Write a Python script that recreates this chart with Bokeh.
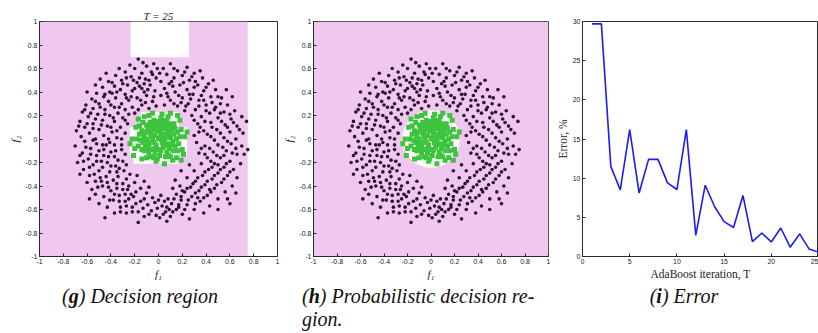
from bokeh.plotting import figure
from bokeh.models import Div, FixedTicker, Range1d
from bokeh.layouts import row, column
from bokeh.embed import file_html
from bokeh.resources import INLINE

# ---------------- data ----------------
feat_ticks = [-1, -0.8, -0.6, -0.4, -0.2, 0, 0.2, 0.4, 0.6, 0.8, 1]
feat_tick_labels = ["-1", "-0.8", "-0.6", "-0.4", "-0.2", "0", "0.2", "0.4", "0.6", "0.8", "1"]
iter_ticks = [0, 5, 10, 15, 20, 25]
err_ticks = [0, 5, 10, 15, 20, 25, 30]

iterations = list(range(1, 26))
error_pct = [29.7, 29.7, 11.5, 8.5, 16.2, 8.1, 12.4, 12.4, 9.4, 8.55, 16.2, 2.7, 9.1,
             6.35, 4.45, 3.7, 7.8, 1.9, 3.0, 1.86, 3.64, 1.19, 2.88, 0.97, 0.55]

# decision region (g): negative class area (pink) and positive pockets (white)
g_neg_left, g_neg_right, g_neg_bottom, g_neg_top = [-1.0], [0.75], [-1.0], [1.0]
g_pos_left = [-0.235, -0.15, -0.24, -0.21]
g_pos_right = [0.255, 0.17, 0.24, 0.17]
g_pos_bottom = [0.695, 0.10, -0.14, -0.21]
g_pos_top = [1.0, 0.23, 0.10, -0.14]

# probabilistic region (h): white disc
h_pos_cx, h_pos_cy, h_pos_r = [0.0], [0.0], [0.245]

# class +1 samples (green, inner)
green_pts = [
    (0, 0), (0.03, 0.02), (-0.03, 0.03), (0.05, -0.02), (-0.05, -0.01), (0.02, 0.06), (-0.02, -0.05),
    (0.07, 0.04), (-0.07, 0.05), (0.04, -0.07), (-0.04, 0.08), (0.08, -0.04), (-0.08, -0.05), (0.01, 0.10),
    (0.00, -0.09), (0.10, 0.01), (-0.10, 0.00), (0.06, 0.09), (-0.06, -0.09), (0.09, -0.08), (-0.09, 0.09),
    (0.11, 0.07), (-0.11, -0.07), (0.12, -0.02), (-0.12, 0.03), (0.03, 0.13), (-0.03, -0.12), (0.05, 0.12),
    (-0.05, 0.12), (0.13, 0.04), (-0.13, -0.03), (0.07, -0.11), (-0.08, -0.12), (0.14, -0.06), (-0.14, 0.07),
    (0.10, 0.11), (-0.10, 0.12), (0.00, 0.15), (0.01, -0.14), (0.15, 0.00), (-0.15, -0.01), (0.12, -0.10),
    (-0.12, -0.10), (0.16, 0.06), (-0.16, 0.04), (0.04, 0.16), (-0.04, 0.16), (0.06, -0.15), (-0.06, -0.15),
    (0.13, 0.13), (-0.13, 0.14), (0.17, -0.04), (-0.17, -0.06), (0.10, -0.15), (-0.10, -0.16),
    (0.02, 0.03), (-0.01, 0.07), (0.06, 0.01), (-0.06, 0.02), (0.03, -0.03), (-0.03, -0.08), (0.08, 0.07),
    (-0.02, 0.11), (0.11, -0.05), (-0.09, -0.03), (0.04, 0.09), (-0.07, 0.10), (0.09, 0.13), (-0.11, 0.06),
    (0.01, 0.01), (0.04, 0.04), (-0.04, -0.03), (0.06, -0.05), (-0.06, 0.06), (0.02, -0.10), (-0.01, 0.13),
    (0.09, 0.03), (-0.09, -0.08), (0.11, 0.10), (-0.12, 0.00), (0.14, 0.09), (-0.14, -0.09), (0.07, 0.15),
    (-0.07, 0.14), (0.08, -0.14), (-0.04, -0.16), (0.16, -0.10), (-0.16, 0.11), (0.18, 0.02), (-0.18, 0.00),
    (0.02, 0.18), (-0.01, -0.17),
    (0.19, 0.08), (-0.19, 0.10), (0.20, -0.09), (-0.20, -0.08), (0.08, 0.19), (-0.08, 0.20), (0.03, 0.21),
    (-0.02, -0.19), (0.12, -0.18), (-0.14, -0.17), (0.22, 0.02), (-0.22, 0.00), (0.18, 0.16), (-0.17, 0.17),
    (0.15, -0.16), (-0.05, 0.22), (0.16, 0.20), (-0.12, 0.19), (0.21, -0.13), (-0.21, -0.14), (0.05, -0.21),
    (0.24, 0.06), (-0.24, -0.04), (0.10, 0.22), (0.19, -0.18),
]

# class -1 samples (dark, ring)
dark_pts = [
    # upper left
    (-0.17, 0.68), (-0.10, 0.62), (-0.04, 0.64), (-0.20, 0.60), (-0.28, 0.57), (-0.14, 0.56), (-0.06, 0.57),
    (-0.36, 0.54), (-0.23, 0.53), (-0.31, 0.50), (-0.11, 0.51), (-0.02, 0.52), (-0.42, 0.49), (-0.18, 0.48),
    (-0.26, 0.46), (-0.37, 0.45), (-0.07, 0.46), (-0.47, 0.44), (-0.14, 0.43), (-0.32, 0.42), (-0.22, 0.41),
    (-0.41, 0.40), (-0.03, 0.41), (-0.52, 0.39), (-0.28, 0.38), (-0.10, 0.37), (-0.46, 0.36), (-0.36, 0.35),
    (-0.18, 0.35), (-0.56, 0.34), (-0.25, 0.33), (-0.42, 0.32), (-0.05, 0.32), (-0.31, 0.30), (-0.50, 0.30),
    (-0.61, 0.29), (-0.14, 0.29), (-0.37, 0.27), (-0.55, 0.26), (-0.45, 0.25), (-0.28, 0.25), (-0.64, 0.23),
    (-0.34, 0.22), (-0.51, 0.21), (-0.41, 0.20), (-0.59, 0.19), (-0.22, 0.27), (-0.30, 0.18), (-0.47, 0.16),
    (-0.66, 0.15), (-0.37, 0.15), (-0.55, 0.13), (-0.43, 0.11), (-0.62, 0.10), (-0.32, 0.10), (-0.50, 0.08),
    (-0.69, 0.07), (-0.39, 0.06), (-0.58, 0.05), (-0.28, 0.05), (-0.46, 0.03), (-0.65, 0.02), (-0.35, 0.01),
    (-0.08, 0.26), (-0.02, 0.28), (-0.20, 0.22), (-0.26, 0.13), (-0.53, 0.46), (-0.60, 0.40), (-0.33, 0.60),
    (-0.44, 0.56), (-0.08, 0.50), (-0.16, 0.45), (-0.27, 0.52), (-0.39, 0.39), (-0.49, 0.27), (-0.57, 0.22),
    (-0.23, 0.36), (-0.12, 0.40),
    (-0.13, 0.65), (-0.24, 0.63), (-0.01, 0.60), (-0.30, 0.47), (-0.20, 0.43), (-0.09, 0.42), (-0.35, 0.40),
    (-0.45, 0.38), (-0.27, 0.35), (-0.15, 0.33), (-0.40, 0.29), (-0.53, 0.32), (-0.33, 0.27), (-0.25, 0.21),
    (-0.45, 0.21), (-0.62, 0.25), (-0.38, 0.18), (-0.53, 0.17), (-0.28, 0.16), (-0.60, 0.13), (-0.40, 0.10),
    (-0.48, 0.12), (-0.35, 0.07), (-0.55, 0.09), (-0.67, 0.11), (-0.42, 0.00), (-0.31, 0.00), (-0.53, 0.00),
    (-0.11, 0.31), (-0.17, 0.25), (-0.04, 0.36), (-0.49, 0.51), (-0.39, 0.48), (-0.21, 0.50), (-0.12, 0.47),
    (-0.05, 0.55), (-0.16, 0.52),
    # upper right
    (0.04, 0.60), (0.10, 0.64), (0.16, 0.58), (0.24, 0.61), (0.07, 0.55), (0.20, 0.54), (0.30, 0.56),
    (0.13, 0.52), (0.02, 0.49), (0.26, 0.50), (0.37, 0.52), (0.09, 0.47), (0.18, 0.46), (0.33, 0.46),
    (0.42, 0.47), (0.05, 0.43), (0.24, 0.42), (0.14, 0.40), (0.38, 0.41), (0.48, 0.42), (0.29, 0.38),
    (0.02, 0.37), (0.20, 0.35), (0.44, 0.36), (0.10, 0.33), (0.34, 0.33), (0.53, 0.35), (0.25, 0.30),
    (0.40, 0.29), (0.05, 0.29), (0.16, 0.28), (0.48, 0.27), (0.58, 0.29), (0.31, 0.25), (0.55, 0.23),
    (0.43, 0.22), (0.64, 0.24), (0.36, 0.19), (0.50, 0.18), (0.61, 0.17), (0.28, 0.20), (0.70, 0.19),
    (0.44, 0.14), (0.56, 0.12), (0.33, 0.13), (0.66, 0.11), (0.74, 0.15), (0.49, 0.08), (0.38, 0.07),
    (0.60, 0.06), (0.71, 0.05), (0.30, 0.03), (0.44, 0.02), (0.55, 0.01), (0.65, 0.00), (0.22, 0.24),
    (0.12, 0.45), (0.35, 0.58), (0.46, 0.50), (0.52, 0.30), (0.27, 0.34), (0.19, 0.31), (0.40, 0.24),
    (0.57, 0.42), (0.62, 0.36),
    (0.13, 0.60), (0.01, 0.56), (0.22, 0.57), (0.28, 0.53), (0.11, 0.49), (0.21, 0.48), (0.30, 0.44),
    (0.07, 0.39), (0.17, 0.37), (0.26, 0.38), (0.36, 0.37), (0.13, 0.30), (0.23, 0.28), (0.34, 0.28),
    (0.45, 0.31), (0.30, 0.16), (0.39, 0.15), (0.52, 0.22), (0.47, 0.25), (0.60, 0.21), (0.35, 0.10),
    (0.45, 0.10), (0.53, 0.15), (0.63, 0.14), (0.41, 0.04), (0.52, 0.05), (0.68, 0.08), (0.34, 0.06),
    (0.58, 0.10), (0.50, 0.36), (0.40, 0.44), (0.31, 0.49), (0.08, 0.36), (0.38, 0.33),
    # lower left
    (-0.62, -0.02), (-0.52, -0.04), (-0.41, -0.03), (-0.31, -0.05), (-0.70, -0.06), (-0.57, -0.08),
    (-0.46, -0.09), (-0.36, -0.10), (-0.64, -0.12), (-0.52, -0.14), (-0.28, -0.13), (-0.42, -0.15),
    (-0.59, -0.17), (-0.68, -0.20), (-0.48, -0.19), (-0.34, -0.18), (-0.55, -0.22), (-0.40, -0.23),
    (-0.63, -0.26), (-0.27, -0.22), (-0.50, -0.27), (-0.35, -0.28), (-0.58, -0.31), (-0.44, -0.32),
    (-0.24, -0.30), (-0.53, -0.36), (-0.38, -0.35), (-0.30, -0.38), (-0.47, -0.40), (-0.20, -0.37),
    (-0.56, -0.43), (-0.40, -0.44), (-0.26, -0.43), (-0.33, -0.48), (-0.15, -0.42), (-0.46, -0.49),
    (-0.21, -0.49), (-0.38, -0.52), (-0.10, -0.46), (-0.28, -0.53), (-0.15, -0.53), (-0.05, -0.50),
    (-0.32, -0.58), (-0.22, -0.58), (-0.09, -0.56), (-0.03, -0.54), (-0.17, -0.62), (-0.06, -0.61),
    (-0.27, -0.63), (-0.12, -0.66), (-0.02, -0.65), (-0.45, -0.67), (-0.17, -0.71), (-0.60, -0.37),
    (-0.50, -0.55), (-0.43, -0.58), (-0.66, -0.30), (-0.37, -0.63), (-0.18, -0.31), (-0.12, -0.36),
    (-0.44, -0.05), (-0.25, -0.40), (-0.08, -0.41), (-0.53, -0.47), (-0.35, -0.42), (-0.23, -0.47),
    (-0.48, -0.36), (-0.66, -0.14), (-0.33, -0.25), (-0.58, -0.51),
    (-0.55, -0.01), (-0.47, -0.05), (-0.37, -0.05), (-0.61, -0.07), (-0.50, -0.10), (-0.40, -0.11),
    (-0.31, -0.09), (-0.57, -0.13), (-0.46, -0.14), (-0.37, -0.15), (-0.63, -0.19), (-0.52, -0.19),
    (-0.43, -0.20), (-0.30, -0.19), (-0.58, -0.24), (-0.47, -0.24), (-0.36, -0.23), (-0.54, -0.30),
    (-0.41, -0.28), (-0.29, -0.27), (-0.49, -0.33), (-0.34, -0.32), (-0.43, -0.37), (-0.27, -0.34),
    (-0.35, -0.38), (-0.51, -0.41), (-0.42, -0.41), (-0.30, -0.43), (-0.19, -0.45), (-0.37, -0.47),
    (-0.28, -0.47), (-0.41, -0.52), (-0.25, -0.51), (-0.12, -0.51), (-0.33, -0.53), (-0.19, -0.55),
    (-0.27, -0.57), (-0.13, -0.59), (-0.01, -0.59), (-0.22, -0.62), (-0.08, -0.64), (-0.32, -0.62),
    # lower right
    (0.02, -0.48), (0.08, -0.51), (0.15, -0.47), (0.03, -0.57), (0.11, -0.55), (0.19, -0.52), (0.06, -0.62),
    (0.15, -0.60), (0.24, -0.56), (0.01, -0.67), (0.10, -0.66), (0.20, -0.64), (0.07, -0.70), (0.26, -0.68),
    (0.30, -0.60), (0.22, -0.45), (0.28, -0.49), (0.35, -0.53), (0.43, -0.57), (0.27, -0.41), (0.34, -0.44),
    (0.41, -0.48), (0.50, -0.51), (0.31, -0.36), (0.39, -0.39), (0.47, -0.42), (0.56, -0.45), (0.37, -0.31),
    (0.45, -0.34), (0.53, -0.37), (0.62, -0.40), (0.42, -0.26), (0.50, -0.29), (0.58, -0.31), (0.66, -0.33),
    (0.36, -0.21), (0.47, -0.21), (0.55, -0.24), (0.63, -0.26), (0.41, -0.16), (0.52, -0.16), (0.60, -0.19),
    (0.69, -0.21), (0.34, -0.12), (0.46, -0.11), (0.57, -0.10), (0.66, -0.13), (0.75, -0.09), (0.72, -0.13),
    (0.39, -0.06), (0.50, -0.05), (0.61, -0.04), (0.70, -0.06), (0.32, -0.03), (0.18, -0.40), (0.12, -0.42),
    (0.24, -0.33), (0.19, -0.27), (0.30, -0.27), (0.60, -0.55), (0.50, -0.60), (0.38, -0.63), (0.65, -0.46),
    (0.14, -0.35), (0.26, -0.22), (0.44, -0.45), (0.33, -0.50), (0.09, -0.60), (0.55, -0.14), (0.58, -0.51),
    (0.05, -0.53), (0.13, -0.51), (0.00, -0.52), (0.17, -0.56), (0.07, -0.58), (0.12, -0.62), (0.22, -0.60),
    (0.04, -0.64), (0.19, -0.49), (0.25, -0.52), (0.31, -0.55), (0.24, -0.42), (0.31, -0.46), (0.38, -0.50),
    (0.29, -0.38), (0.36, -0.41), (0.43, -0.43), (0.33, -0.33), (0.41, -0.36), (0.49, -0.39), (0.39, -0.28),
    (0.47, -0.31), (0.55, -0.34), (0.45, -0.24), (0.52, -0.26), (0.60, -0.28), (0.44, -0.19), (0.50, -0.22),
    (0.57, -0.21), (0.39, -0.13), (0.49, -0.14), (0.62, -0.12), (0.43, -0.08), (0.54, -0.07), (0.65, -0.08),
    (0.36, -0.08), (0.47, -0.01), (0.58, -0.02), (0.20, -0.44), (0.17, -0.58),
]

green_x = [p[0] for p in green_pts]
green_y = [p[1] for p in green_pts]
dark_x = [p[0] for p in dark_pts]
dark_y = [p[1] for p in dark_pts]

# ---------------- style ----------------
PINK = "#efc7ef"
DARK = "#2e1230"
GREEN = "#3cc43c"
BLUE = "#1c1cf0"
AX = "#2a2a2a"
TICK_FONT = "Liberation Sans"
SERIF = "Liberation Serif"

FIG_H = 285
TOP = 21
BOTTOM = 29


def style_axes(p, xticks, xlabels, yticks, ylabels, xlab, ylab, xlab_italic, ylab_italic, lab_size="11px"):
    p.grid.visible = False
    p.outline_line_color = AX
    p.outline_line_width = 1
    p.background_fill_color = "white"
    p.border_fill_color = "white"
    for ax, ticks, labels in ((p.xaxis[0], xticks, xlabels), (p.yaxis[0], yticks, ylabels)):
        ax.ticker = FixedTicker(ticks=ticks)
        ax.major_label_overrides = {t: l for t, l in zip(ticks, labels)}
        ax.major_tick_in = 3
        ax.major_tick_out = 0
        ax.minor_tick_line_color = None
        ax.axis_line_color = AX
        ax.major_tick_line_color = AX
        ax.major_label_text_font = TICK_FONT
        ax.major_label_text_font_size = "7px"
        ax.major_label_text_color = "#222222"
        ax.major_label_standoff = 2
        ax.axis_label_standoff = 1
        ax.axis_label_text_font = SERIF
        ax.axis_label_text_font_size = lab_size
        ax.axis_label_text_color = "#222222"
    p.xaxis[0].axis_label = xlab
    p.yaxis[0].axis_label = ylab
    p.xaxis[0].axis_label_text_font_style = "italic" if xlab_italic else "normal"
    p.yaxis[0].axis_label_text_font_style = "italic" if ylab_italic else "normal"
    p.xaxis[0].major_label_orientation = "horizontal"
    p.yaxis[0].major_label_orientation = "horizontal"


def feature_fig(width, bl, br, title=None):
    p = figure(width=width, height=FIG_H, x_range=Range1d(-1, 1), y_range=Range1d(-1, 1),
               output_backend="svg", toolbar_location=None, title=title,
               min_border_left=bl, min_border_right=br, min_border_top=TOP, min_border_bottom=BOTTOM)
    style_axes(p, feat_ticks, feat_tick_labels, feat_ticks, feat_tick_labels,
               "f\u2081", "f\u2082", True, True)
    return p


# (g) decision region
pg = feature_fig(280, 39, 3, title="T = 25")
pg.title.align = "center"
pg.title.text_font = SERIF
pg.title.text_font_style = "italic"
pg.title.text_font_size = "11px"
pg.title.text_color = "#222222"
pg.title.standoff = 0
pg.quad(left=g_neg_left, right=g_neg_right, bottom=g_neg_bottom, top=g_neg_top,
        fill_color=PINK, line_color=None)
pg.quad(left=g_pos_left, right=g_pos_right, bottom=g_pos_bottom, top=g_pos_top,
        fill_color="white", line_color=None)
pg.scatter(green_x, green_y, marker="square", size=5, fill_color=GREEN, line_color=None)
pg.scatter(dark_x, dark_y, marker="circle", size=3.6, fill_color=DARK, line_color=None)

# (h) probabilistic decision region
ph = feature_fig(270, 33, 2)
ph.quad(left=[-1.0], right=[1.0], bottom=[-1.0], top=[1.0], fill_color=PINK, line_color=None)
ph.ellipse(x=h_pos_cx, y=h_pos_cy, width=[2 * r for r in h_pos_r], height=[2 * r for r in h_pos_r],
           fill_color="white", line_color=None)
ph.scatter(green_x, green_y, marker="square", size=5, fill_color=GREEN, line_color=None)
ph.scatter(dark_x, dark_y, marker="circle", size=3.6, fill_color=DARK, line_color=None)

# (i) error
pi = figure(width=268, height=FIG_H, x_range=Range1d(0, 25), y_range=Range1d(0, 30),
            output_backend="svg", toolbar_location=None,
            min_border_left=32, min_border_right=0, min_border_top=TOP, min_border_bottom=BOTTOM)
style_axes(pi, iter_ticks, [str(t) for t in iter_ticks], err_ticks, [str(t) for t in err_ticks],
           "AdaBoost iteration, T", "Error, %", False, False, lab_size="11.5px")
pi.line(iterations, error_pct, line_color=BLUE, line_width=1.6)

cap = {"font-family": "Liberation Serif, serif", "font-style": "italic", "font-size": "20px",
       "line-height": "23px", "color": "#111111"}
d1 = Div(text="(<b>g</b>) Decision region", width=280, height=48, margin=0,
         styles={**cap, "text-align": "center"})
d2 = Div(text="(<b>h</b>) Probabilistic decision re-<br>gion.", width=270, height=48, margin=0,
         styles={**cap, "text-align": "left", "padding-left": "22px"})
d3 = Div(text="(<b>i</b>) Error", width=268, height=48, margin=0,
         styles={**cap, "text-align": "center"})

layout = column(row(pg, ph, pi), row(d1, d2, d3))

open("out.html", "w").write(file_html(layout, INLINE))
